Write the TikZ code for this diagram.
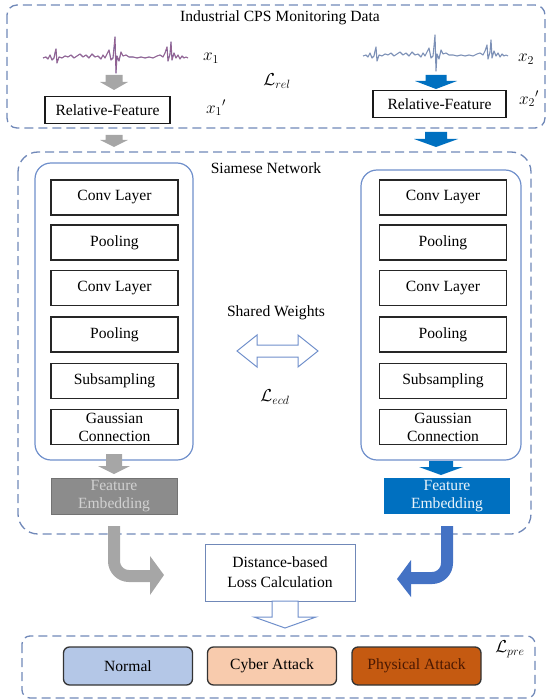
\documentclass[tikz,border=0pt]{standalone}
\usepackage{fontspec}
\setmainfont{Liberation Serif}
\usetikzlibrary{calc}

\definecolor{dashblue}{HTML}{7088B8}
\definecolor{innerblue}{HTML}{6F8FCB}
\definecolor{arrowgray}{HTML}{A6A6A6}
\definecolor{arrowblue}{HTML}{0070C0}
\definecolor{curveblue}{HTML}{4472C4}
\definecolor{fegray}{HTML}{8C8C8C}
\definecolor{normalfill}{HTML}{B4C7E7}
\definecolor{cyberfill}{HTML}{F8CBAD}
\definecolor{physfill}{HTML}{C55A11}
\definecolor{phystext}{HTML}{4A1802}
\definecolor{sigone}{HTML}{6F5A96}
\definecolor{sigonered}{HTML}{C8708E}
\definecolor{sigtwo}{HTML}{7C90B6}

% solid down-pointing block arrow: colour, x, y top, y of head base, y of tip, stem half width, head half width
\newcommand\blockdown[7]{%
  \fill[#1] (#2-#6,#3) -- (#2+#6,#3) -- (#2+#6,#4) -- (#2+#7,#4) -- (#2,#5)
    -- (#2-#7,#4) -- (#2-#6,#4) -- cycle;}

% ECG-like trace, drawn upwards-positive in a local frame
\newcommand\ecgtrace[2]{%
  \draw[#1, line width=#2, line join=round]
    (0,0) -- (3,1) -- (5,-1) -- (7,3) -- (9,-2) -- (11,0) -- (12,5) -- (13,9) -- (14,-5)
    -- (16,1) -- (19,0) -- (22,2) -- (25,1) -- (28,3) -- (31,0) -- (34,2) -- (37,4)
    -- (40,1) -- (43,3) -- (46,0) -- (49,4) -- (52,1) -- (55,2) -- (58,-1) -- (60,3)
    -- (62,0) -- (64,4) -- (66,8) -- (68,-2) -- (70,0) -- (71,10) -- (72,21) -- (73,-15)
    -- (74,2) -- (76,-3) -- (78,6) -- (80,2) -- (83,3) -- (86,1) -- (90,1) -- (94,0)
    -- (98,1) -- (102,0) -- (106,1) -- (110,0) -- (114,2) -- (117,3) -- (120,1)
    -- (122,5) -- (124,11) -- (125,-3) -- (127,4) -- (128,16) -- (129,-2) -- (131,5)
    -- (133,0) -- (135,3) -- (137,-1) -- (139,2) -- (141,0) -- (143,1) -- (145,0);}

\begin{document}
\begin{tikzpicture}[x=1pt, y=-1pt,
  font=\fontsize{15.6}{17.5}\selectfont,
  groupbox/.style={draw=dashblue, line width=1.3pt, dash pattern=on 9pt off 5pt},
  towerbox/.style={draw=innerblue, line width=1.2pt, rounded corners=16pt},
  layer/.style={draw=black!85, line width=1.3pt, minimum width=127pt, minimum height=35pt,
    inner sep=0pt, align=center},
  relbox/.style={draw=black!90, line width=1.4pt, inner sep=0pt, minimum height=27pt},
  embed/.style={minimum width=126pt, minimum height=36pt, inner sep=0pt, align=center},
  classbox/.style={draw=black!80, line width=1.3pt, rounded corners=6pt, minimum width=129pt,
    minimum height=38pt, inner sep=0pt},
  label/.style={inner sep=1pt},
  mathlabel/.style={inner sep=1pt, font=\fontsize{18}{20}\selectfont},
  hollow/.style={draw=innerblue, fill=white, line width=1pt, line join=miter}]

\useasboundingbox (0,0) rectangle (547,700);

% ---------- input data group ----------
\draw[groupbox, rounded corners=10pt] (7,5) rectangle (545,128);
\node[label] (title) at (280,18) {Industrial CPS Monitoring Data};

\begin{scope}[shift={(43,58)}, yscale=-1]
  \ecgtrace{sigone}{1.1pt}
  \ecgtrace{sigonered, opacity=0.6}{0.5pt}
\end{scope}
\begin{scope}[shift={(363,56)}, yscale=-1]
  \ecgtrace{sigtwo}{1.1pt}
\end{scope}
\node[mathlabel] (xone) at (211,58) {$x_1$};
\node[mathlabel] (xtwo) at (526,59) {$x_2$};
\node[mathlabel] (lrel) at (277,81) {$\mathcal{L}_{rel}$};

\node[relbox, minimum width=125pt] (rfone) at (107.5,110) {Relative-Feature};
\node[relbox, minimum width=133pt] (rftwo) at (439.5,104) {Relative-Feature};
\node[mathlabel] (xonep) at (216,108) {${x_1}'$};
\node[mathlabel] (xtwop) at (529,99) {${x_2}'$};

\blockdown{arrowgray}{114}{75}{82}{90}{8.5}{14}
\blockdown{arrowblue}{436}{75}{81}{89}{10.5}{21}

\blockdown{arrowgray}{114}{135}{140}{147}{8.5}{14}
\blockdown{arrowblue}{436}{132}{139}{147}{11}{22}

% ---------- siamese network ----------
\draw[groupbox, rounded corners=20pt] (18,152) rectangle (531,534);
\node[label] (siam) at (266,168) {Siamese Network};

\draw[towerbox] (35,163) rectangle (193,460);
\draw[towerbox] (361,170) rectangle (521,460);

\foreach \side/\cx in {a/114.5, b/443} {
  \node[layer] (conv1\side) at (\cx,197.5) {Conv Layer};
  \node[layer] (pool1\side) at (\cx,242.5) {Pooling};
  \node[layer] (conv2\side) at (\cx,288)   {Conv Layer};
  \node[layer] (pool2\side) at (\cx,334.5) {Pooling};
  \node[layer] (sub\side)   at (\cx,381)   {Subsampling};
  \node[layer, font=\fontsize{15.6}{18}\selectfont] (gauss\side) at (\cx,427) {Gaussian\\Connection};
}

\node[label] (shared) at (276,313) {Shared Weights};
\draw[hollow] (237,351) -- (257,335) -- (257,345) -- (298,345) -- (298,335) -- (318,351)
  -- (298,367) -- (298,357) -- (257,357) -- (257,367) -- cycle;
\node[mathlabel] (lecd) at (275,397) {$\mathcal{L}_{ecd}$};

\blockdown{arrowgray}{114}{454}{466}{474}{8}{16}
\blockdown{arrowblue}{441}{461}{467}{475}{12}{22}

\node[embed, fill=fegray, draw=black!55, line width=0.8pt, text=black!18,
  font=\fontsize{15.6}{18}\selectfont] (fea) at (114,496) {Feature\\Embedding};
\node[embed, fill=arrowblue, text=white!92!arrowblue,
  font=\fontsize{15.6}{18}\selectfont] (feb) at (447,496) {Feature\\Embedding};

% ---------- loss and classes ----------
\node[draw=dashblue, line width=0.8pt, minimum width=150pt, minimum height=57pt, inner sep=0pt,
  align=center, font=\fontsize{15.6}{20}\selectfont] (dist) at (280,572.5)
  {Distance-based\\Loss Calculation};

\draw[arrowgray, line width=12pt, rounded corners=15pt] (114,526) -- (114,576) -- (151,576);
\fill[arrowgray] (150,556) -- (164,575) -- (150,595) -- cycle;

\draw[curveblue, line width=12pt, rounded corners=15pt] (447,526) -- (447,578) -- (410,578);
\fill[curveblue] (411,560) -- (397,579) -- (411,597) -- cycle;

\draw[hollow] (272,601) -- (298,601) -- (298,617) -- (316,617) -- (285,628) -- (254,617)
  -- (272,617) -- cycle;

\draw[groupbox, rounded corners=8pt] (22,636) rectangle (535,698);
\node[classbox, fill=normalfill] (normal) at (128,666) {Normal};
\node[classbox, fill=cyberfill] (cyber) at (272,666) {Cyber Attack};
\node[classbox, fill=physfill, text=phystext] (phys) at (416.5,666) {Physical Attack};
\node[mathlabel] (lpre) at (510,649) {$\mathcal{L}_{pre}$};

\end{tikzpicture}
\end{document}
